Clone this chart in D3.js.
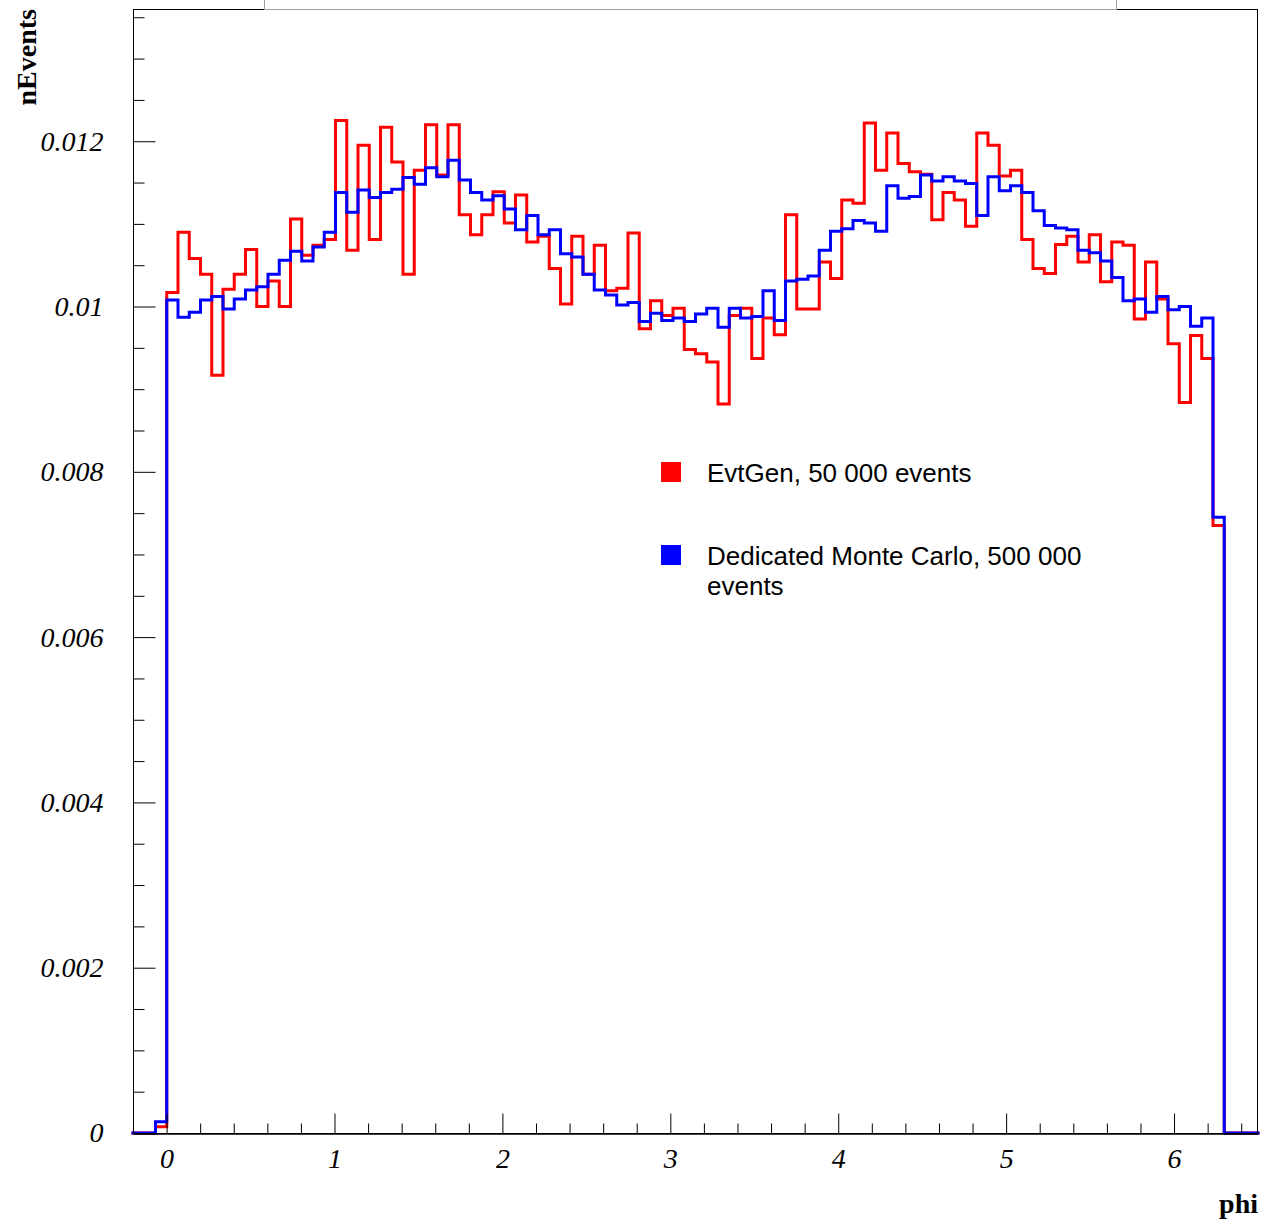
<!DOCTYPE html>
<html>
<head>
<meta charset="utf-8">
<script src="https://cdn.jsdelivr.net/npm/d3@7"></script>
<style>
  html, body { margin: 0; padding: 0; background: #fff; }
  svg { display: block; }
</style>
</head>
<body>
<div id="chart"></div>
<script>
// Histogram definition (ROOT TH1: 100 bins over [-0.2, 6.5])
const histMin = -0.2;
const histMax = 6.5;
const nBins = 100;

// EvtGen, 50 000 events (bin contents, bins 0..99)
const evtGenValues = [
  0, 0, 0.0000766,
  0.01017, 0.01090, 0.01058, 0.01039, 0.00917, 0.01021, 0.01039, 0.01069, 0.01000, 0.01031,
  0.01000, 0.01106, 0.01062, 0.01074, 0.01081, 0.01225, 0.01068, 0.01195, 0.01081, 0.01217,
  0.01175, 0.01039, 0.01165, 0.01220, 0.01159, 0.01220, 0.01111, 0.01087, 0.01111, 0.01139,
  0.01101, 0.01135, 0.01078, 0.01085, 0.01046, 0.01003, 0.01085, 0.01039, 0.01074, 0.01019,
  0.01022, 0.01089, 0.00973, 0.01007, 0.00989, 0.00998, 0.00948, 0.00943, 0.00933, 0.00882,
  0.00989, 0.00998, 0.00937, 0.00986, 0.00966, 0.01111, 0.00997, 0.00997, 0.01054, 0.01034,
  0.01129, 0.01125, 0.01222, 0.01165, 0.01210, 0.01173, 0.01163, 0.01160, 0.01105, 0.01138,
  0.01129, 0.01097, 0.01210, 0.01195, 0.01158, 0.01165, 0.01081, 0.01046, 0.01040, 0.01075,
  0.01085, 0.01054, 0.01087, 0.01030, 0.01078, 0.01074, 0.00985, 0.01054, 0.01009, 0.00955,
  0.00884, 0.00965, 0.00937, 0.00735,
  0, 0, 0
];

// Dedicated Monte Carlo, 500 000 events (bin contents, bins 0..99)
const dedicatedMCValues = [
  0, 0, 0.000137,
  0.01008, 0.00987, 0.00993, 0.01008, 0.01012, 0.00997, 0.01009, 0.01020, 0.01024, 0.01039,
  0.01056, 0.01067, 0.01055, 0.01072, 0.01090, 0.01138, 0.01114, 0.01141, 0.01132, 0.01138,
  0.01142, 0.01156, 0.01148, 0.01168, 0.01157, 0.01177, 0.01153, 0.01138, 0.01129, 0.01134,
  0.01118, 0.01093, 0.01110, 0.01087, 0.01093, 0.01064, 0.01060, 0.01039, 0.01020, 0.01014,
  0.01002, 0.01005, 0.00982, 0.00992, 0.00983, 0.00986, 0.00982, 0.00991, 0.00998, 0.00975,
  0.00998, 0.00986, 0.00988, 0.01019, 0.00983, 0.01031, 0.01033, 0.01037, 0.01068, 0.01091,
  0.01094, 0.01104, 0.01101, 0.01091, 0.01146, 0.01131, 0.01133, 0.01159, 0.01152, 0.01157,
  0.01152, 0.01149, 0.01110, 0.01157, 0.01140, 0.01146, 0.01138, 0.01116, 0.01098, 0.01095,
  0.01093, 0.01068, 0.01065, 0.01055, 0.01035, 0.01007, 0.01009, 0.00993, 0.01012, 0.00996,
  0.01000, 0.00976, 0.00986, 0.00745,
  0, 0, 0
];

const xTickValues = [0, 1, 2, 3, 4, 5, 6];
const xMinorTickValues = [-0.2, 0.2, 0.4, 0.6, 0.8, 1.2, 1.4, 1.6, 1.8, 2.2, 2.4, 2.6, 2.8,
  3.2, 3.4, 3.6, 3.8, 4.2, 4.4, 4.6, 4.8, 5.2, 5.4, 5.6, 5.8, 6.2, 6.4];
const yTickValues = [0, 0.002, 0.004, 0.006, 0.008, 0.01, 0.012];
const yMinorTickValues = [0.0005, 0.001, 0.0015, 0.0025, 0.003, 0.0035, 0.0045, 0.005, 0.0055,
  0.0065, 0.007, 0.0075, 0.0085, 0.009, 0.0095, 0.0105, 0.011, 0.0115, 0.0125, 0.013, 0.0135];
const yTickLabels = ["0", "0.002", "0.004", "0.006", "0.008", "0.01", "0.012"];
const xTickLabels = ["0", "1", "2", "3", "4", "5", "6"];

const seriesNames = ["EvtGen, 50 000 events", "Dedicated Monte Carlo, 500 000", "events"];
const seriesColors = ["#ff0000", "#0000ff"];

const W = 1265, H = 1219;
const L = 133, R = 1258, T = 9, B = 1133;

const svg = d3.select("#chart").append("svg")
  .attr("width", W).attr("height", H)
  .attr("viewBox", `0 0 ${W} ${H}`);

const x = d3.scaleLinear().domain([histMin, histMax]).range([L, R]);
const y = d3.scaleLinear().domain([0, 0.0136]).range([B, T]);

const binWidth = (histMax - histMin) / nBins;
function histPoints(vals) {
  const pts = vals.map((v, i) => [histMin + i * binWidth, v]);
  pts.push([histMax, vals[vals.length - 1]]);
  return pts;
}

const line = d3.line()
  .x(d => x(d[0]))
  .y(d => y(d[1]))
  .curve(d3.curveStepAfter);

const plot = svg.append("g");

// histograms: red first, blue on top
[evtGenValues, dedicatedMCValues].forEach((vals, i) => {
  plot.append("path")
    .attr("d", line(histPoints(vals)))
    .attr("fill", "none")
    .attr("stroke", seriesColors[i])
    .attr("stroke-width", 3)
    .attr("stroke-linejoin", "miter")
    .attr("stroke-linecap", "square");
});

// frame
svg.append("rect")
  .attr("x", L + 0.5).attr("y", T + 0.5)
  .attr("width", R - L - 1).attr("height", B - T)
  .attr("fill", "none").attr("stroke", "#000").attr("stroke-width", 1);

// x axis (ticks pointing up)
const xAxis = d3.axisBottom(x)
  .tickValues(xTickValues)
  .tickFormat((d, i) => xTickLabels[i])
  .tickSizeInner(-20).tickSizeOuter(0).tickPadding(15);
const gx = svg.append("g").attr("transform", `translate(0,${B + 0.5})`).call(xAxis);
gx.select(".domain").attr("stroke", "#000").attr("stroke-width", 1.5);
gx.selectAll(".tick line").attr("stroke", "#000");
gx.selectAll(".tick text")
  .attr("font-family", "'Liberation Serif', 'Times New Roman', serif")
  .attr("font-style", "italic")
  .attr("font-size", 28)
  .attr("fill", "#000");

const xMinor = d3.axisBottom(x).tickValues(xMinorTickValues).tickFormat("")
  .tickSizeInner(-10).tickSizeOuter(0);
const gxm = svg.append("g").attr("transform", `translate(0,${B + 0.5})`).call(xMinor);
gxm.select(".domain").remove();
gxm.selectAll(".tick line").attr("stroke", "#000");

// y axis (ticks pointing right)
const yAxis = d3.axisLeft(y)
  .tickValues(yTickValues)
  .tickFormat((d, i) => yTickLabels[i])
  .tickSizeInner(-22).tickSizeOuter(0).tickPadding(30);
const gy = svg.append("g").attr("transform", `translate(${L + 0.5},0)`).call(yAxis);
gy.select(".domain").remove();
gy.selectAll(".tick line").attr("stroke", "#000");
gy.selectAll(".tick text")
  .attr("font-family", "'Liberation Serif', 'Times New Roman', serif")
  .attr("font-style", "italic")
  .attr("font-size", 28)
  .attr("fill", "#000");

const yMinor = d3.axisLeft(y).tickValues(yMinorTickValues).tickFormat("")
  .tickSizeInner(-11).tickSizeOuter(0);
const gym = svg.append("g").attr("transform", `translate(${L + 0.5},0)`).call(yMinor);
gym.select(".domain").remove();
gym.selectAll(".tick line").attr("stroke", "#000");

// title box (mostly above the visible area)
svg.append("rect")
  .attr("x", 264.5).attr("y", -40)
  .attr("width", 852).attr("height", 49.5)
  .attr("fill", "#fff").attr("stroke", "#a0a0a0").attr("stroke-width", 1);

// axis titles
svg.append("text")
  .attr("transform", "translate(36,9) rotate(-90)")
  .attr("text-anchor", "end")
  .attr("font-family", "'Liberation Serif', 'Times New Roman', serif")
  .attr("font-weight", "bold")
  .attr("font-size", 28)
  .text("nEvents");

svg.append("text")
  .attr("x", 1258).attr("y", 1213)
  .attr("text-anchor", "end")
  .attr("font-family", "'Liberation Serif', 'Times New Roman', serif")
  .attr("font-weight", "bold")
  .attr("font-size", 28)
  .text("phi");

// legend
const legend = svg.append("g")
  .attr("font-family", "'Liberation Sans', Arial, sans-serif")
  .attr("font-size", 26)
  .attr("fill", "#000");

legend.append("rect").attr("x", 661).attr("y", 462).attr("width", 20).attr("height", 20)
  .attr("fill", seriesColors[0]);
legend.append("text").attr("x", 707).attr("y", 482).text(seriesNames[0]);

legend.append("rect").attr("x", 661).attr("y", 545).attr("width", 20).attr("height", 20)
  .attr("fill", seriesColors[1]);
const t2 = legend.append("text").attr("x", 707).attr("y", 565);
t2.append("tspan").attr("x", 707).attr("y", 565).text(seriesNames[1]);
t2.append("tspan").attr("x", 707).attr("y", 595).text(seriesNames[2]);
</script>
</body>
</html>
